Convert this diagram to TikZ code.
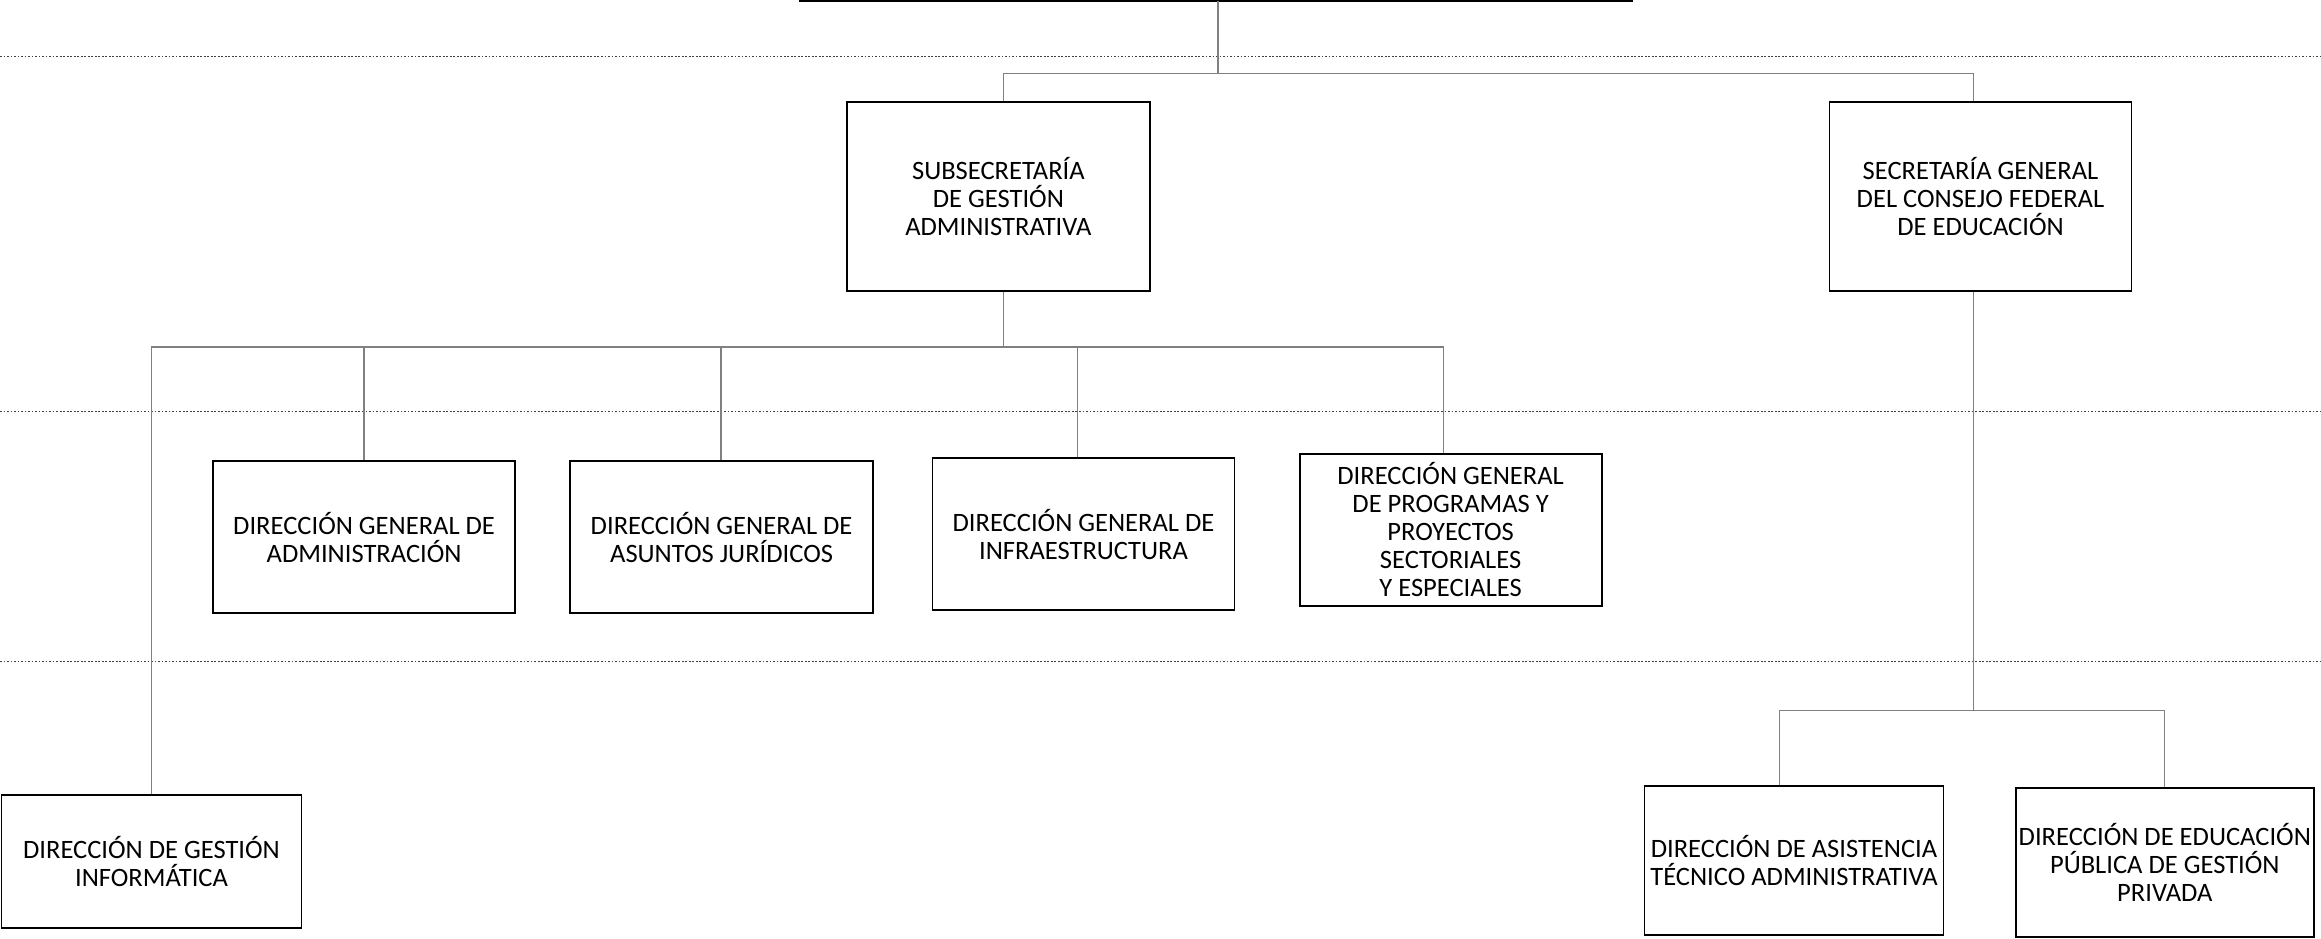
\documentclass[tikz,border=0pt]{standalone}
\usepackage{fontspec}
\setmainfont{Carlito}

\tikzset{
	unit/.style={draw, line width=0.55pt, fill=white, minimum width=3.02cm, minimum height=1.514cm, inner sep=0.5pt, align=center, font=\fontsize{7.55}{8}\selectfont},
	link/.style={draw=black!50, line width=0.35pt},
	level/.style={black!75, line width=0.3pt, dash pattern=on 0.5pt off 0.5pt}
}

\begin{document}
\begin{tikzpicture}
	\useasboundingbox (0, 0) rectangle (23.21, -9.39);
	% level lines
	\foreach \y in {-0.569, -4.117, -6.619}
		\draw [level] (0, \y) -- (23.21, \y);
	% bottom edge of the top box
	\draw [line width=0.6pt] (7.99, -0.01) -- (16.33, -0.01);
	\coordinate (Top) at (12.18, -0.01);

	\node [unit, minimum width=3.034cm, minimum height=1.891cm]	(SubGestion)	at (9.984, -1.969)	{SUBSECRETARÍA\\DE GESTIÓN\\ADMINISTRATIVA};
	\node [unit, minimum height=1.891cm]	(SecConsejo)	at (19.805, -1.969)	{SECRETARÍA GENERAL\\DEL CONSEJO FEDERAL\\DE EDUCACIÓN};

	\node [unit]	(Administracion)	at (3.641, -5.371)	{DIRECCIÓN GENERAL DE\\ADMINISTRACIÓN};
	\node [unit, minimum width=3.034cm]	(Juridicos)	at (7.216, -5.371)	{DIRECCIÓN GENERAL DE\\ASUNTOS JURÍDICOS};
	\node [unit]	(Infraestructura)	at (10.835, -5.341)	{DIRECCIÓN GENERAL DE\\INFRAESTRUCTURA};
	\node [unit, minimum height=1.52cm]	(Programas)	at (14.506, -5.296)	{DIRECCIÓN GENERAL\\DE PROGRAMAS Y\\PROYECTOS\\SECTORIALES\\Y ESPECIALES};

	\node [unit, minimum width=3.0cm, minimum height=1.329cm]	(Informatica)	at (1.515, -8.618)	{DIRECCIÓN DE GESTIÓN\\INFORMÁTICA};
	\node [unit, minimum width=2.99cm, minimum height=1.49cm]	(AsistTecnica)	at (17.94, -8.609)	{DIRECCIÓN DE ASISTENCIA\\TÉCNICO ADMINISTRATIVA};
	\node [unit, minimum width=2.975cm, minimum height=1.496cm]	(EducPrivada)	at (21.648, -8.624)	{DIRECCIÓN DE EDUCACIÓN\\PÚBLICA DE GESTIÓN\\PRIVADA};

	% connectors
	\draw [link] (Top) -- ++(0, -0.726) coordinate (TopBar);
	\draw [link] ([xshift=0.052cm]SubGestion.north) |- (TopBar) -| ([xshift=-0.074cm]SecConsejo.north);

	\draw [link] ([xshift=0.052cm]SubGestion.south) -- ++(0, -0.545) coordinate (MidBar);
	\draw [link] (Informatica.north) |- (MidBar) -| ([xshift=-0.074cm]Programas.north);
	\foreach \n/\dx in {Administracion/0, Juridicos/-0.007, Infraestructura/-0.059}
		\draw [link] ([xshift=\dx cm]\n.north) |- (MidBar);

	\draw [link] ([xshift=-0.074cm]SecConsejo.south) -- ++(0, -4.184) coordinate (LowBar);
	\draw [link] ([xshift=-0.148cm]AsistTecnica.north) |- (LowBar) -| (EducPrivada.north);
\end{tikzpicture}
\end{document}
